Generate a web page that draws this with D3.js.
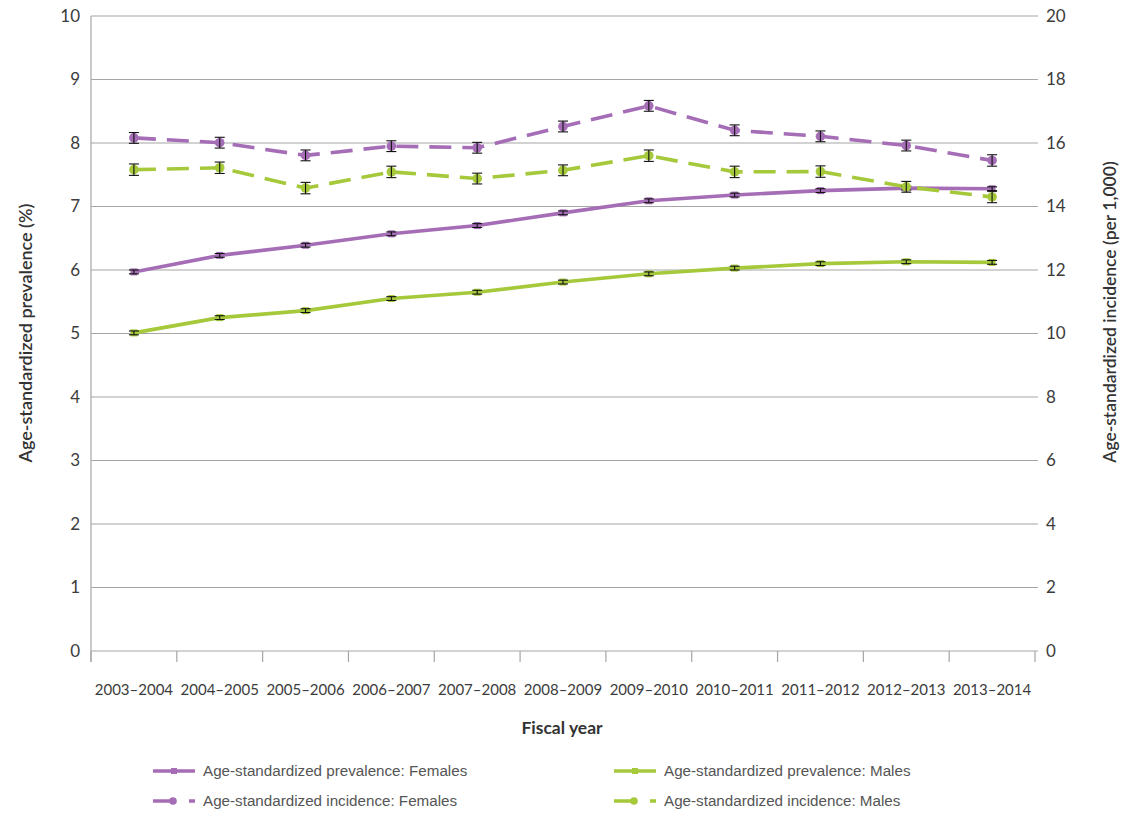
<!DOCTYPE html>
<html>
<head>
<meta charset="utf-8">
<script src="https://cdn.jsdelivr.net/npm/d3@7/dist/d3.min.js"></script>
<style>
  body { margin: 0; background: #fff; }
  svg { display: block; }
</style>
</head>
<body>
<svg id="chart" width="1140" height="820"></svg>
<script>
// ---- Data ----
const categories = ["2003–2004","2004–2005","2005–2006","2006–2007","2007–2008","2008–2009","2009–2010","2010–2011","2011–2012","2012–2013","2013–2014"];
const prevFemales = [5.97, 6.23, 6.39, 6.57, 6.70, 6.90, 7.09, 7.18, 7.25, 7.29, 7.28];
const prevMales   = [5.01, 5.25, 5.36, 5.55, 5.65, 5.81, 5.94, 6.03, 6.10, 6.13, 6.12];
const incFemales  = [16.16, 16.01, 15.61, 15.90, 15.85, 16.52, 17.17, 16.40, 16.21, 15.92, 15.45];
const incMales    = [15.16, 15.22, 14.58, 15.09, 14.88, 15.14, 15.60, 15.09, 15.10, 14.62, 14.30];
const prevFemErr  = [0.03, 0.03, 0.03, 0.03, 0.03, 0.03, 0.03, 0.03, 0.03, 0.03, 0.03];
const prevMaleErr = [0.03, 0.03, 0.03, 0.03, 0.03, 0.03, 0.03, 0.03, 0.03, 0.03, 0.03];
const incFemErr   = [0.17, 0.17, 0.17, 0.17, 0.17, 0.17, 0.17, 0.17, 0.17, 0.17, 0.18];
const incMaleErr  = [0.18, 0.18, 0.18, 0.18, 0.17, 0.17, 0.18, 0.18, 0.18, 0.17, 0.18];
const leftTicks  = [0,1,2,3,4,5,6,7,8,9,10];
const rightTicks = [0,2,4,6,8,10,12,14,16,18,20];

const PURPLE = "#a56db6";
const GREEN  = "#a5c93b";

const svg = d3.select("#chart");
const L = 91, R = 1035, T = 16, B = 651;

const x = d3.scaleBand().domain(categories).range([L, R]).paddingInner(0).paddingOuter(0);
const yL = d3.scaleLinear().domain([0, 10]).range([B, T]);
const yR = d3.scaleLinear().domain([0, 20]).range([B, T]);
const cx = d => x(d) + x.bandwidth() / 2;

// Gridlines
svg.append("g").selectAll("line").data(leftTicks).join("line")
  .attr("x1", L).attr("x2", R + 3)
  .attr("y1", d => yL(d)).attr("y2", d => yL(d))
  .attr("stroke", "#a6a6a6").attr("stroke-width", 1.2);

// Left axis line
svg.append("line").attr("x1", L).attr("x2", L).attr("y1", T).attr("y2", B + 11)
  .attr("stroke", "#a6a6a6").attr("stroke-width", 1.2);

// X axis ticks at band boundaries
const boundaries = categories.map(c => x(c)).concat([R]);
svg.append("g").selectAll("line").data(boundaries).join("line")
  .attr("x1", d => d).attr("x2", d => d)
  .attr("y1", B).attr("y2", B + 11)
  .attr("stroke", "#a6a6a6").attr("stroke-width", 1.2);

// Left tick labels
const tickFont = "Lato, 'Open Sans', sans-serif";
svg.append("g").selectAll("text").data(leftTicks).join("text")
  .attr("x", 80).attr("y", d => yL(d)).attr("dy", "0.35em")
  .attr("text-anchor", "end")
  .attr("font-family", tickFont).attr("font-size", 17).attr("fill", "#3c3c3c")
  .text(d => d);

// Right tick labels
svg.append("g").selectAll("text").data(rightTicks).join("text")
  .attr("x", 1046).attr("y", d => yR(d)).attr("dy", "0.35em")
  .attr("text-anchor", "start")
  .attr("font-family", tickFont).attr("font-size", 17).attr("fill", "#3c3c3c")
  .text(d => d);

// X tick labels
svg.append("g").selectAll("text").data(categories).join("text")
  .attr("x", d => cx(d)).attr("y", 695)
  .attr("text-anchor", "middle")
  .attr("font-family", tickFont).attr("font-size", 15).attr("fill", "#3c3c3c")
  .text(d => d);

// Axis titles
svg.append("text")
  .attr("transform", `translate(32,333) rotate(-90)`)
  .attr("text-anchor", "middle")
  .attr("font-family", tickFont).attr("font-size", 18).attr("font-weight", 600).attr("fill", "#333")
  .text("Age-standardized  prevalence (%)");
svg.append("text")
  .attr("transform", `translate(1116,312) rotate(-90)`)
  .attr("text-anchor", "middle")
  .attr("font-family", tickFont).attr("font-size", 17.5).attr("font-weight", 600).attr("fill", "#333")
  .text("Age-standardized incidence (per 1,000)");
svg.append("text")
  .attr("x", 562).attr("y", 734)
  .attr("text-anchor", "middle")
  .attr("font-family", tickFont).attr("font-size", 17.5).attr("font-weight", 700).attr("fill", "#333")
  .text("Fiscal year");

// Series
const series = [
  { vals: incFemales, err: incFemErr, y: yR, color: PURPLE, dash: "22,11", marker: "circle" },
  { vals: incMales,   err: incMaleErr, y: yR, color: GREEN,  dash: "22,11", marker: "circle" },
  { vals: prevFemales, err: prevFemErr, y: yL, color: PURPLE, dash: null, marker: "square" },
  { vals: prevMales,   err: prevMaleErr, y: yL, color: GREEN,  dash: null, marker: "square" }
];

const drawOrder = [3, 2, 1, 0];
drawOrder.forEach(i => {
  const s = series[i];
  const pts = categories.map((c, j) => [cx(c), s.y(s.vals[j])]);
  svg.append("path")
    .attr("d", d3.line()(pts))
    .attr("fill", "none").attr("stroke", s.color).attr("stroke-width", 3.6)
    .attr("stroke-dasharray", s.dash)
    .attr("stroke-linejoin", "round");
});

drawOrder.forEach(i => {
  const s = series[i];
  const g = svg.append("g");
  categories.forEach((c, j) => {
    const px = cx(c), py = s.y(s.vals[j]);
    if (s.marker === "circle") {
      g.append("circle").attr("cx", px).attr("cy", py).attr("r", 4.8).attr("fill", s.color);
    } else {
      g.append("rect").attr("x", px - 3.5).attr("y", py - 3.5).attr("width", 7).attr("height", 7).attr("fill", s.color);
    }
    const yt = s.y(s.vals[j] + s.err[j]), yb = s.y(s.vals[j] - s.err[j]);
    g.append("line").attr("x1", px).attr("x2", px).attr("y1", yt).attr("y2", yb).attr("stroke", "#111").attr("stroke-width", 1.1);
    g.append("line").attr("x1", px - 5).attr("x2", px + 5).attr("y1", yt).attr("y2", yt).attr("stroke", "#111").attr("stroke-width", 1.1);
    g.append("line").attr("x1", px - 5).attr("x2", px + 5).attr("y1", yb).attr("y2", yb).attr("stroke", "#111").attr("stroke-width", 1.1);
  });
});

// Legend
const legendItems = [
  { label: "Age-standardized prevalence: Females", color: PURPLE, dash: false, lx: 153, ly: 771 },
  { label: "Age-standardized prevalence: Males",   color: GREEN,  dash: false, lx: 614, ly: 771 },
  { label: "Age-standardized incidence: Females",  color: PURPLE, dash: true,  lx: 153, ly: 801 },
  { label: "Age-standardized incidence: Males",    color: GREEN,  dash: true,  lx: 614, ly: 801 }
];
const lg = svg.append("g");
legendItems.forEach(it => {
  const w = 42;
  lg.append("line").attr("x1", it.lx).attr("x2", it.lx + w).attr("y1", it.ly).attr("y2", it.ly)
    .attr("stroke", it.color).attr("stroke-width", 3.6)
    .attr("stroke-dasharray", it.dash ? "22,14" : null);
  if (it.dash) {
    lg.append("circle").attr("cx", it.lx + 20).attr("cy", it.ly).attr("r", 3.8).attr("fill", it.color);
  } else {
    lg.append("rect").attr("x", it.lx + 21 - 3).attr("y", it.ly - 3).attr("width", 6).attr("height", 6).attr("fill", it.color);
  }
  lg.append("text").attr("x", it.lx + 50).attr("y", it.ly).attr("dy", "0.35em")
    .attr("font-family", "'Liberation Sans Narrow', 'Liberation Sans', Arial, sans-serif")
    .attr("font-size", 15.2).attr("fill", "#555")
    .text(it.label);
});
</script>
</body>
</html>
